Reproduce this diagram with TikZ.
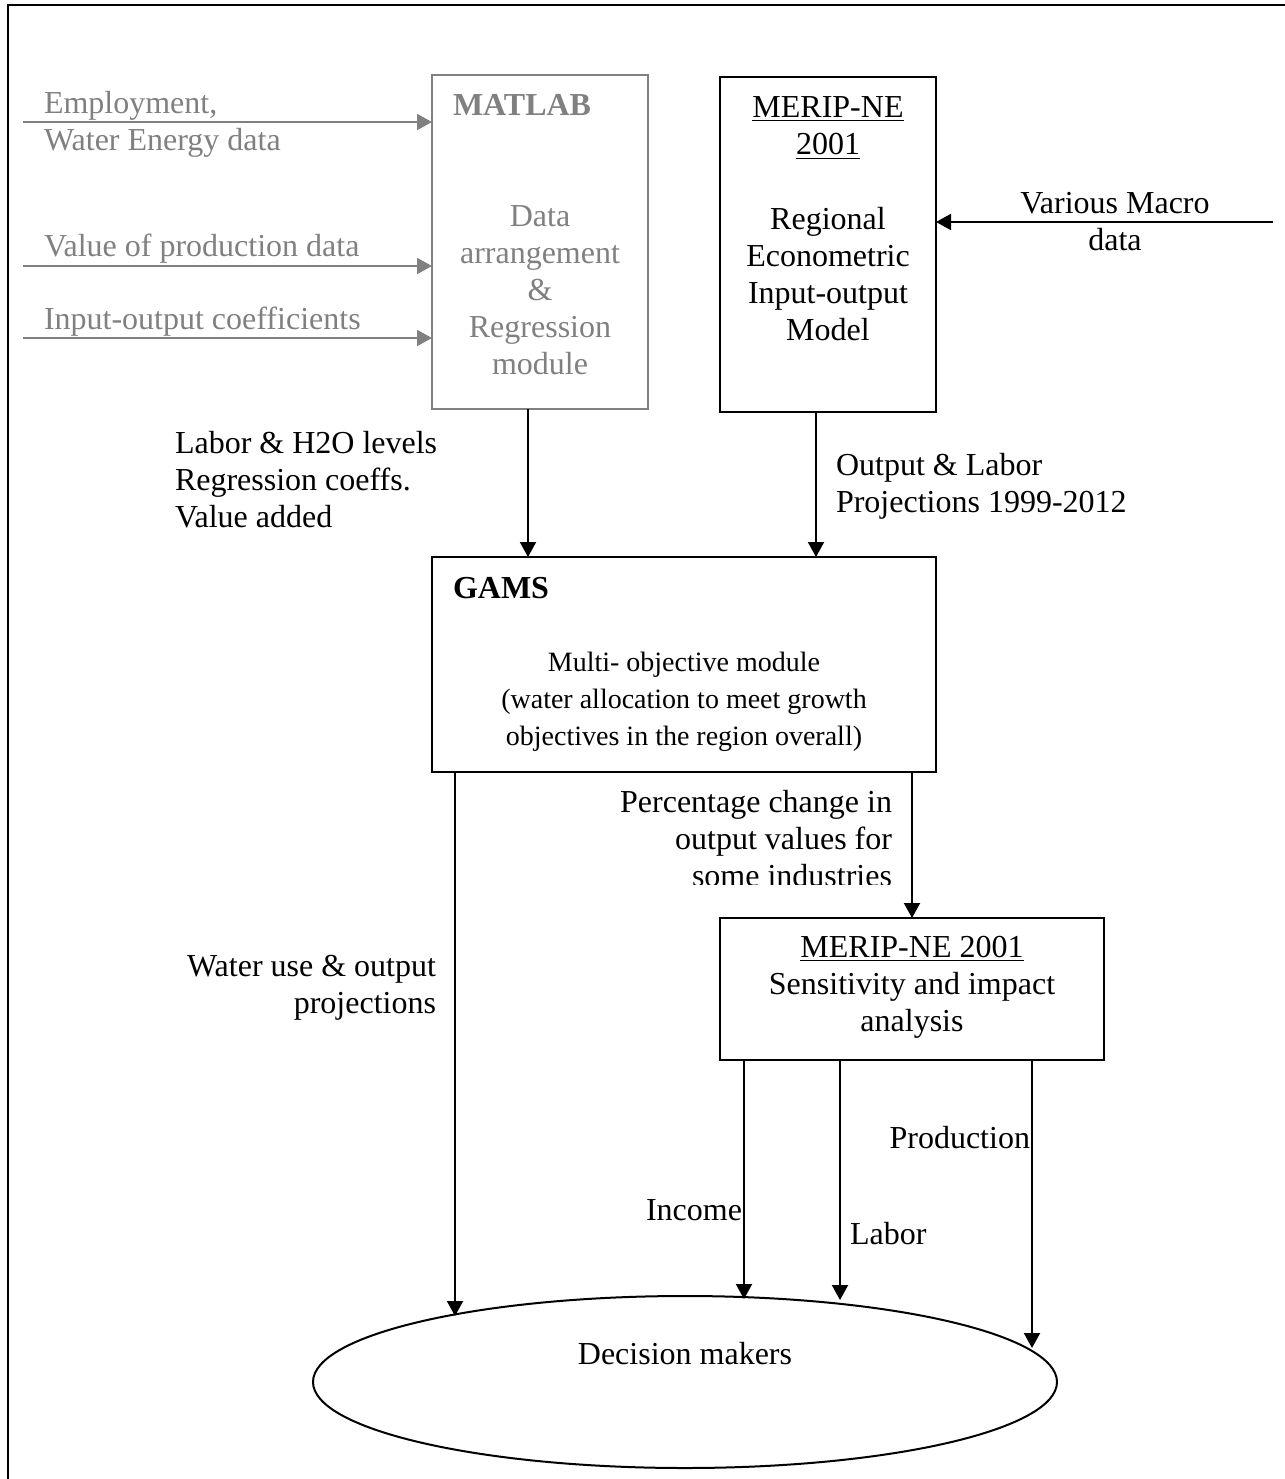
\documentclass[tikz,border=0pt]{standalone}
\usepackage{fontspec}
\setmainfont{Liberation Serif}
\usetikzlibrary{arrows.meta,shapes.geometric,calc}
\definecolor{mgray}{RGB}{128,128,128}
\begin{document}
\begin{tikzpicture}[x=0.5pt,y=-0.5pt,
  font=\fontsize{16}{18.5}\selectfont,
  box/.style={draw, line width=1pt, inner sep=0pt, outer sep=0pt, anchor=north west},
  gbox/.style={box, draw=mgray},
  arr/.style={line width=1pt, -{Triangle[length=7.5pt,width=8pt]}},
  garr/.style={arr, draw=mgray, fill=mgray},
  txt/.style={inner sep=0pt, outer sep=0pt},
  gtxt/.style={txt, text=mgray},
]
\useasboundingbox (0,0) rectangle (1285,1479);
% frame
\draw[line width=1pt] (8,1479) -- (8,5) -- (1285,5);

% boxes
\node[gbox, minimum width=108pt, minimum height=167pt] (matlab) at (432,75) {};
\node[box, minimum width=108pt, minimum height=167.5pt] (merip) at (720,77) {};
\node[box, minimum width=252pt, minimum height=107.5pt] (gams) at (432,557) {};
\node[box, minimum width=192pt, minimum height=71pt] (merip2) at (720,918) {};
\node[draw, ellipse, line width=1pt, inner sep=0pt, outer sep=0pt,
      minimum width=372pt, minimum height=86pt] (dm) at (685,1382) {};

% texts in boxes
\node[gtxt, anchor=west, font=\fontsize{16}{18.5}\selectfont\bfseries] (matlabt) at (453,105) {MATLAB};
\node[gtxt, align=center] (datat) at (540,290) {Data\\arrangement\\\&\\Regression\\module};
\node[txt, align=center] (meript) at (828,128) {\underline{MERIP-NE}\\\underline{2001}};
\node[txt, align=center] (regt) at (828,274) {Regional\\Econometric\\Input-output\\Model};
\node[txt, anchor=west, font=\fontsize{16}{18.5}\selectfont\bfseries] (gamst) at (453,588) {GAMS};
\node[txt, align=center, font=\fontsize{14}{18.5}\selectfont] (multit) at (684,702) {Multi- objective module\\(water allocation to meet growth\\objectives in the region overall)};
\node[txt, align=center] (merip2t) at (912,987) {\underline{MERIP-NE 2001}\\Sensitivity and impact\\analysis};
\node[txt] (dmt) at (685,1354) {Decision makers};

% gray inputs
\coordinate (g1) at (23,122);
\coordinate (g2) at (23,266);
\coordinate (g3) at (23,338);
\draw[garr] (g1) -- (g1 -| matlab.west);
\draw[garr] (g2) -- (g2 -| matlab.west);
\draw[garr] (g3) -- (g3 -| matlab.west);
\node[gtxt, anchor=west, align=left] (emp) at (44,124) {Employment,\\Water Energy data};
\node[gtxt, anchor=west] (vop) at (44,249) {Value of production data};
\node[gtxt, anchor=west] (ioc) at (44,322) {Input-output coefficients};

% various macro
\coordinate (vm) at (1273,222);
\draw[arr] (vm) -- (vm -| merip.east);
\node[txt, align=center] (vmt) at (1115,222) {Various Macro\\data};

% to GAMS
\draw[arr] ([xshift=-6pt]matlab.south) -- ([xshift=-6pt]matlab.south |- gams.north);
\draw[arr] ([xshift=-6pt]merip.south) -- ([xshift=-6pt]merip.south |- gams.north);
\node[txt, anchor=west, align=left] (labt) at (175,480) {Labor \& H2O levels\\Regression coeffs.\\Value added};
\node[txt, anchor=west, align=left] (outt) at (836,486) {Output \& Labor\\Projections 1999-2012};

% from GAMS
\draw[arr] ([xshift=11.5pt]gams.south west) -- ($(dm.center)+(-230,-66)$);
\node[txt, anchor=east, align=right] (wut) at (436,988) {Water use \& output\\projections};
\draw[arr] (gams.south -| merip2.north) -- (merip2.north);
\begin{scope}
\clip (500,780) rectangle (910,884);
\node[txt, anchor=east, align=right] (pct) at (892,839) {Percentage change in\\output values for\\some industries};
\end{scope}

% from MERIP2
\draw[arr] ([xshift=12pt]merip2.south west) -- ($(dm.center)+(59,-83)$);
\draw[arr] ([xshift=60pt]merip2.south west) -- ($(dm.center)+(155,-82)$);
\draw[arr] ([xshift=156pt]merip2.south west) -- ($(dm.center)+(347,-34)$);
\node[txt, anchor=east] (inc) at (742,1210) {Income};
\node[txt, anchor=west] (lab) at (850,1234) {Labor};
\node[txt, anchor=east] (prod) at (1030,1138) {Production};
\end{tikzpicture}
\end{document}
